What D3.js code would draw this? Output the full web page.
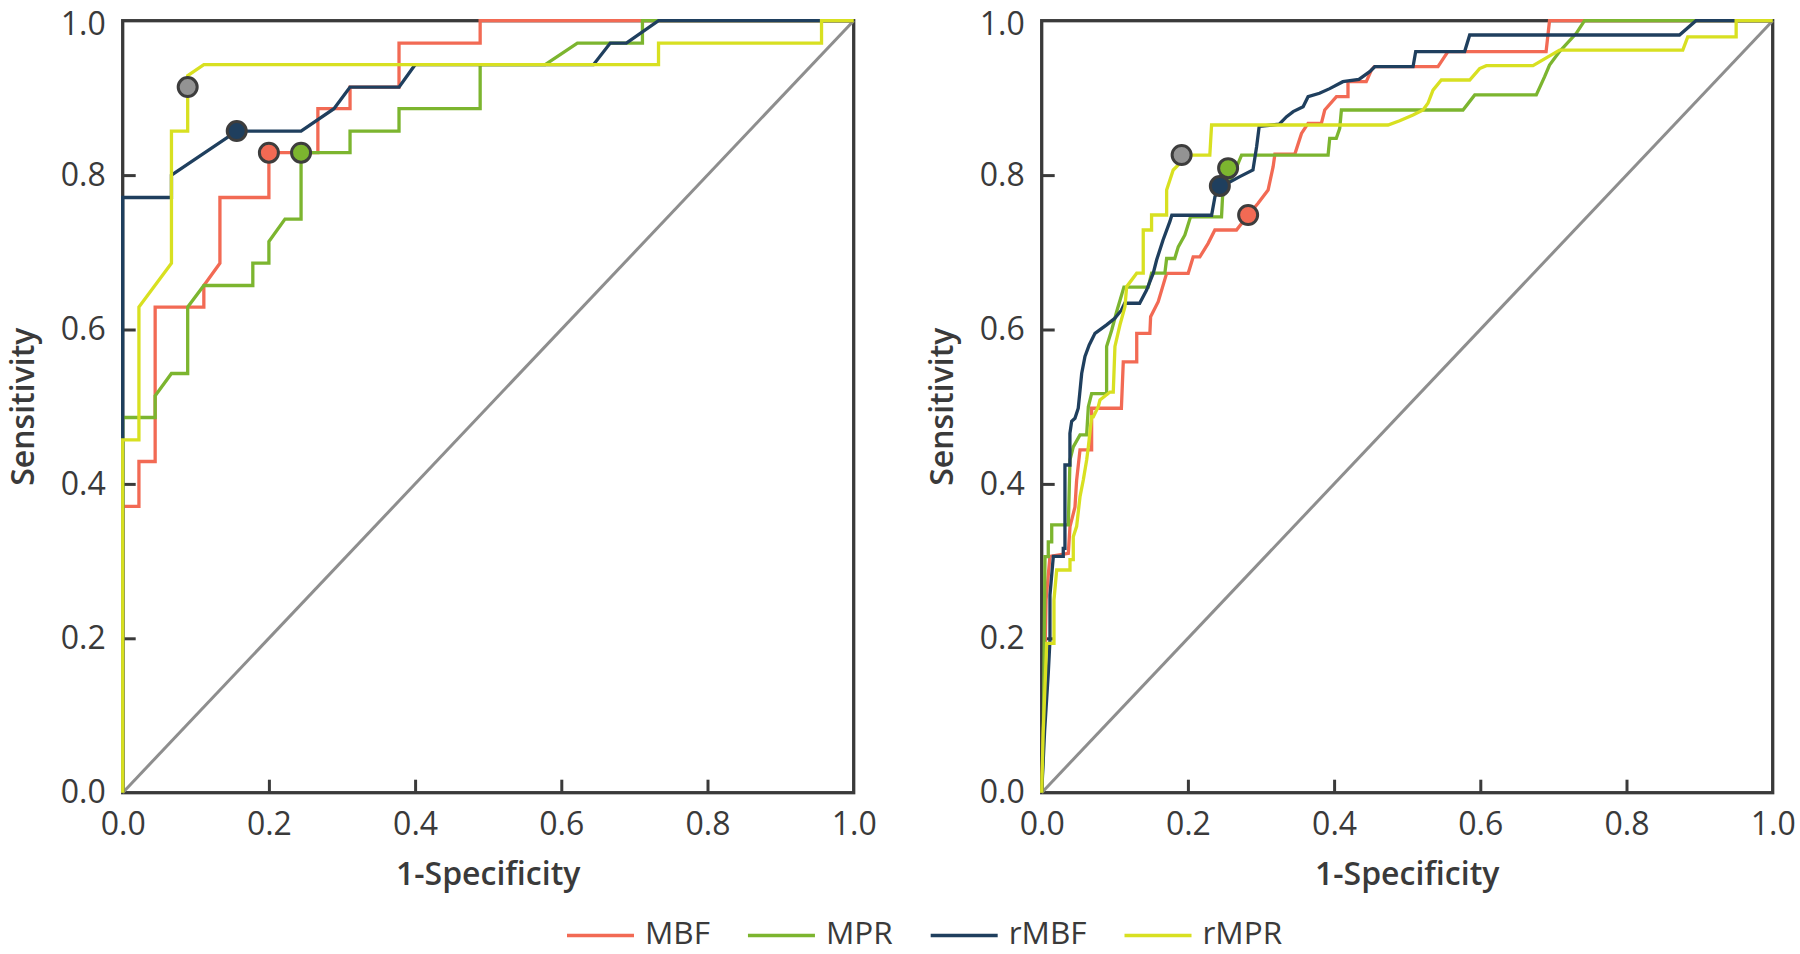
<!DOCTYPE html>
<html>
<head>
<meta charset="utf-8">
<script src="https://cdn.jsdelivr.net/npm/d3@7"></script>
<style>
  html, body { margin: 0; padding: 0; background: #ffffff; }
  svg { display: block; }
  text { font-family: "Open Sans", "Noto Sans", sans-serif; fill: #3a3a3a; }
</style>
</head>
<body>
<svg id="chart" width="1800" height="954"></svg>
<script>
// ---------------- data ----------------
const seriesNames = ["MBF", "MPR", "rMBF", "rMPR"];
const seriesColors = ["#f26a54", "#7cb52f", "#1f3f5e", "#d8e021"];
const dotColors = ["#f26a54", "#7cb52f", "#1f3f5e", "#939393"];
const xTicks = [0, 0.2, 0.4, 0.6, 0.8, 1.0];
const yTicks = [0, 0.2, 0.4, 0.6, 0.8, 1.0];
const xTitle = "1-Specificity";
const yTitle = "Sensitivity";

// Left panel ROC curves: [1-specificity, sensitivity]
const leftMBF = [[0,0],[0,0.371],[0.0222,0.371],[0.0222,0.429],[0.0444,0.429],[0.0444,0.629],[0.111,0.629],[0.111,0.657],[0.133,0.686],[0.133,0.771],[0.2,0.771],[0.2,0.829],[0.267,0.829],[0.267,0.886],[0.311,0.886],[0.311,0.914],[0.378,0.914],[0.378,0.971],[0.489,0.971],[0.489,1],[1,1]];
const leftMPR = [[0,0],[0,0.486],[0.0444,0.486],[0.0444,0.514],[0.0667,0.543],[0.0889,0.543],[0.0889,0.629],[0.111,0.657],[0.178,0.657],[0.178,0.686],[0.2,0.686],[0.2,0.714],[0.222,0.743],[0.244,0.743],[0.244,0.829],[0.311,0.829],[0.311,0.857],[0.378,0.857],[0.378,0.886],[0.489,0.886],[0.489,0.943],[0.578,0.943],[0.622,0.971],[0.711,0.971],[0.711,1],[1,1]];
const leftRMBF = [[0,0],[0,0.771],[0.0667,0.771],[0.0667,0.8],[0.156,0.857],[0.244,0.857],[0.289,0.886],[0.311,0.914],[0.378,0.914],[0.4,0.943],[0.644,0.943],[0.667,0.971],[0.689,0.971],[0.733,1],[1,1]];
const leftRMPR = [[0,0],[0,0.457],[0.0222,0.457],[0.0222,0.629],[0.0667,0.686],[0.0667,0.857],[0.0889,0.857],[0.0889,0.929],[0.111,0.943],[0.733,0.943],[0.733,0.971],[0.956,0.971],[0.956,1],[1,1]];

// Right panel ROC curves
const rightMBF = [[0,0],[0.003,0.1],[0.006,0.25],[0.0113,0.306],[0.0364,0.31],[0.0387,0.3446],[0.0455,0.37],[0.0478,0.405],[0.0524,0.444],[0.0683,0.444],[0.0683,0.498],[0.109,0.498],[0.1116,0.558],[0.13,0.558],[0.13,0.595],[0.148,0.595],[0.149,0.6166],[0.1594,0.636],[0.1709,0.6728],[0.2004,0.6728],[0.2072,0.694],[0.2163,0.694],[0.2277,0.7116],[0.2369,0.7289],[0.2665,0.7289],[0.2824,0.7483],[0.296,0.7635],[0.3097,0.7807],[0.3166,0.811],[0.319,0.827],[0.3462,0.827],[0.3554,0.854],[0.3644,0.867],[0.3826,0.867],[0.3872,0.8843],[0.4032,0.9016],[0.419,0.9016],[0.419,0.921],[0.444,0.921],[0.451,0.9361],[0.455,0.9404],[0.5421,0.9404],[0.5557,0.96],[0.69,0.96],[0.6947,1],[1,1]];
const rightMPR = [[0,0],[0.002,0.051],[0.0045,0.3057],[0.009,0.3057],[0.009,0.325],[0.0137,0.325],[0.0137,0.3468],[0.0364,0.3468],[0.0387,0.431],[0.0432,0.448],[0.0524,0.4634],[0.0615,0.4634],[0.0638,0.5],[0.0683,0.517],[0.0888,0.517],[0.0888,0.578],[0.0957,0.599],[0.1025,0.623],[0.1125,0.655],[0.1457,0.655],[0.1504,0.673],[0.1685,0.673],[0.1709,0.692],[0.182,0.692],[0.1868,0.707],[0.1959,0.7225],[0.2036,0.746],[0.246,0.746],[0.2474,0.772],[0.255,0.79],[0.262,0.8],[0.2734,0.826],[0.3918,0.826],[0.394,0.8477],[0.403,0.8477],[0.4077,0.8606],[0.41,0.8843],[0.5763,0.8843],[0.5924,0.9038],[0.6766,0.9038],[0.688,0.9275],[0.6947,0.9426],[0.7084,0.96],[0.7313,0.9837],[0.7426,1],[1,1]];
const rightRMBF = [[0,0],[0.004,0.08],[0.009,0.155],[0.0113,0.198],[0.0113,0.256],[0.0159,0.306],[0.0295,0.306],[0.0295,0.3166],[0.0318,0.3166],[0.0318,0.4245],[0.0386,0.4245],[0.0386,0.4655],[0.041,0.481],[0.0455,0.485],[0.05,0.498],[0.052,0.517],[0.0547,0.543],[0.0592,0.565],[0.065,0.58],[0.0729,0.595],[0.0888,0.606],[0.1,0.6145],[0.109,0.625],[0.1136,0.634],[0.134,0.634],[0.1435,0.651],[0.1526,0.673],[0.1572,0.69],[0.166,0.716],[0.1754,0.74],[0.178,0.748],[0.2324,0.748],[0.237,0.772],[0.2437,0.786],[0.2574,0.791],[0.271,0.798],[0.289,0.8066],[0.294,0.8368],[0.2975,0.863],[0.325,0.866],[0.335,0.8757],[0.344,0.8822],[0.3576,0.8886],[0.3644,0.9016],[0.38,0.906],[0.394,0.912],[0.412,0.921],[0.434,0.924],[0.4487,0.934],[0.4556,0.9404],[0.508,0.9404],[0.5116,0.96],[0.5786,0.96],[0.5855,0.9815],[0.8725,0.9815],[0.895,1],[1,1]];
const rightRMPR = [[0,0],[0.002,0.077],[0.0068,0.1935],[0.0168,0.1935],[0.0168,0.2496],[0.0205,0.2885],[0.0387,0.2885],[0.0387,0.302],[0.0432,0.302],[0.0432,0.3316],[0.0478,0.345],[0.0524,0.3834],[0.0569,0.405],[0.0615,0.431],[0.0638,0.448],[0.0683,0.487],[0.0706,0.487],[0.0774,0.5],[0.0797,0.5087],[0.0934,0.519],[0.0979,0.519],[0.1002,0.578],[0.107,0.6058],[0.1139,0.6295],[0.1162,0.6554],[0.13,0.673],[0.1389,0.673],[0.1389,0.7289],[0.1503,0.7289],[0.1503,0.7483],[0.1709,0.7483],[0.1709,0.7807],[0.1754,0.7936],[0.1799,0.8066],[0.189,0.8152],[0.1914,0.826],[0.23,0.826],[0.2324,0.8649],[0.4738,0.8649],[0.4897,0.8705],[0.508,0.8778],[0.5216,0.8843],[0.5284,0.893],[0.5353,0.91],[0.5467,0.9232],[0.5855,0.9232],[0.5991,0.938],[0.6083,0.9417],[0.6721,0.9417],[0.7084,0.962],[0.877,0.962],[0.8838,0.979],[0.95,0.979],[0.95,1],[1,1]];

// Optimal cut-off points (series index, 1-specificity, sensitivity), in drawing order
const leftCutoffs = [[0,0.2,0.829],[1,0.244,0.829],[2,0.156,0.857],[3,0.0889,0.914]];
const rightCutoffs = [[0,0.2824,0.7483],[1,0.255,0.809],[2,0.2437,0.786],[3,0.1914,0.826]];

// ---------------- drawing ----------------
const svg = d3.select("#chart");
const plotTop = 20.7, plotBottom = 792.7, plotW = 731;
const panels = [
  { left: 122.7, curves: [leftMBF, leftMPR, leftRMBF, leftRMPR], cutoffs: leftCutoffs },
  { left: 1041.7, curves: [rightMBF, rightMPR, rightRMBF, rightRMPR], cutoffs: rightCutoffs }
];
const axisColor = "#3a3a3a";
const fmt = d3.format(".1f");

panels.forEach(p => {
  const x = d3.scaleLinear().domain([0, 1]).range([p.left, p.left + plotW]);
  const y = d3.scaleLinear().domain([0, 1]).range([plotBottom, plotTop]);
  const g = svg.append("g");

  // frame
  g.append("rect")
    .attr("x", x(0)).attr("y", y(1))
    .attr("width", x(1) - x(0)).attr("height", y(0) - y(1))
    .attr("fill", "none").attr("stroke", axisColor).attr("stroke-width", 3.3);

  // axes with inward ticks
  const gx = g.append("g").attr("transform", `translate(0,${y(0)})`)
    .call(d3.axisBottom(x).tickValues(xTicks).tickFormat(fmt).tickSize(-13).tickPadding(20));
  const gy = g.append("g").attr("transform", `translate(${x(0)},0)`)
    .call(d3.axisLeft(y).tickValues(yTicks).tickFormat(fmt).tickSize(-13).tickPadding(17));
  [gx, gy].forEach(a => {
    a.select(".domain").remove();
    a.selectAll(".tick line").attr("stroke", axisColor).attr("stroke-width", 3);
    a.selectAll(".tick text").attr("font-size", 32).attr("fill", "#3a3a3a")
      .style("font-family", '"Open Sans", "Noto Sans", sans-serif');
  });
  // keep the top label inside the picture
  gy.selectAll(".tick text").filter(d => d === 1).attr("dy", "0.42em");
  // hide end ticks overlapping frame corners
  gx.selectAll(".tick line").filter(d => d === 0 || d === 1).remove();
  gy.selectAll(".tick line").filter(d => d === 0 || d === 1).remove();

  // diagonal reference
  g.append("line")
    .attr("x1", x(0)).attr("y1", y(0)).attr("x2", x(1)).attr("y2", y(1))
    .attr("stroke", "#8e8e8e").attr("stroke-width", 3);

  // curves
  const line = d3.line().x(d => x(d[0])).y(d => y(d[1]));
  p.curves.forEach((c, i) => {
    g.append("path").datum(c)
      .attr("d", line)
      .attr("fill", "none")
      .attr("stroke", seriesColors[i])
      .attr("stroke-width", 3.3)
      .attr("stroke-linejoin", "miter");
  });

  // cut-off dots
  g.selectAll("circle.cut").data(p.cutoffs).enter().append("circle")
    .attr("class", "cut")
    .attr("cx", d => x(d[1])).attr("cy", d => y(d[2]))
    .attr("r", 9.5)
    .attr("fill", d => dotColors[d[0]])
    .attr("stroke", "#3d3d3d").attr("stroke-width", 3);

  // titles
  g.append("text")
    .attr("x", (x(0) + x(1)) / 2).attr("y", 885)
    .attr("text-anchor", "middle").attr("font-size", 32).attr("font-weight", 600)
    .text(xTitle);
  g.append("text")
    .attr("transform", `translate(${x(0) - 89},${(y(0) + y(1)) / 2}) rotate(-90)`)
    .attr("text-anchor", "middle").attr("font-size", 32).attr("font-weight", 600)
    .text(yTitle);
});

// legend
const legend = svg.append("g");
let lx = 567;
const ly = 935.5;
seriesNames.forEach((name, i) => {
  legend.append("line")
    .attr("x1", lx).attr("x2", lx + 67).attr("y1", ly).attr("y2", ly)
    .attr("stroke", seriesColors[i]).attr("stroke-width", 3.6);
  const t = legend.append("text")
    .attr("x", lx + 78).attr("y", ly + 8.5)
    .attr("font-size", 31.5)
    .text(name);
  const w = t.node().getComputedTextLength();
  lx = lx + 78 + w + 38;
});
</script>
</body>
</html>
